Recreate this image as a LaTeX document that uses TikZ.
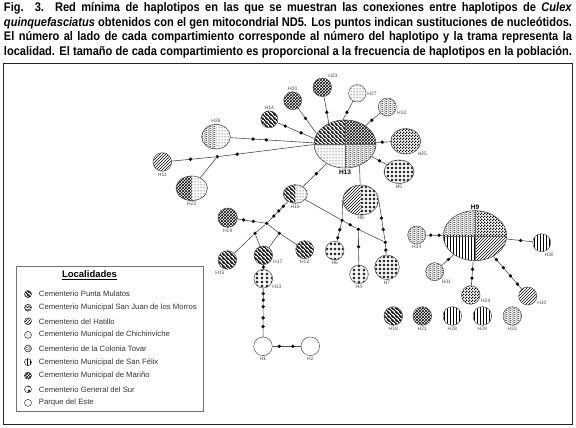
\documentclass[tikz,border=0pt]{standalone}
\usepackage{fontspec}
\setmainfont{Liberation Sans}
\newfontfamily\capfont[FakeStretch=0.885]{Liberation Sans}
\usepackage{tikz}
\usetikzlibrary{positioning,shapes.geometric,patterns,patterns.meta}

% tramas de las localidades
\tikzdeclarepattern{
  name=mulatos, type=uncolored,
  bottom left={(0pt,0pt)}, top right={(3.6pt,3.6pt)}, tile size={(3.6pt,3.6pt)},
  code={\draw[line width=1.1pt] (-1pt,4.6pt) -- (4.6pt,-1pt) (-1pt,1pt) -- (1pt,-1pt) (2.6pt,4.6pt) -- (4.6pt,2.6pt);}
}
\tikzdeclarepattern{
  name=sanjuan, type=uncolored,
  bottom left={(0pt,0pt)}, top right={(3pt,3pt)}, tile size={(3pt,3pt)},
  code={\fill (0pt,0pt) rectangle (1.5pt,1.5pt); \fill (1.5pt,1.5pt) rectangle (3pt,3pt);}
}
\tikzdeclarepattern{
  name=tovar, type=uncolored,
  bottom left={(0pt,0pt)}, top right={(4pt,2.2pt)}, tile size={(4pt,2.2pt)},
  code={\draw[line width=.35pt] (0pt,1.1pt) sin (1pt,1.8pt) cos (2pt,1.1pt) sin (3pt,.4pt) cos (4pt,1.1pt);}
}
\tikzdeclarepattern{
  name=delsur, type=uncolored,
  bottom left={(0pt,0pt)}, top right={(4.4pt,4.4pt)}, tile size={(4.4pt,4.4pt)},
  code={\draw[line width=.35pt] (0pt,2.2pt) -- (4.4pt,2.2pt) (2.2pt,0pt) -- (2.2pt,4.4pt);
        \fill (2.2pt,2.2pt) circle [radius=1.25pt];}
}

\tikzset{
  pmul/.style={pattern=mulatos},
  psjm/.style={pattern=sanjuan},
  phat/.style={pattern=north east lines},
  pchi/.style={pattern=dots},
  ptov/.style={pattern=tovar},
  pfel/.style={pattern=vertical lines},
  pmar/.style={pattern=crosshatch},
  pgds/.style={pattern=delsur},
  ppde/.style={}
}

\begin{document}
\begin{tikzpicture}[x=1pt,y=-1pt,
  hap/.style={circle,draw=black!70,line width=.5pt,inner sep=0pt,minimum size=18.6pt},
  hapbig/.style 2 args={ellipse,draw=black!70,line width=.6pt,inner sep=0pt,minimum width=#1,minimum height=#2},
  halves/.style 2 args={path picture={
    \fill[pattern=#1] (path picture bounding box.south west) rectangle (path picture bounding box.north);
    \fill[pattern=#2] (path picture bounding box.south) rectangle (path picture bounding box.north east);}},
  quarters/.style n args={4}{path picture={
    \fill[pattern=#1] (path picture bounding box.west) rectangle (path picture bounding box.north);
    \fill[pattern=#2] (path picture bounding box.center) rectangle (path picture bounding box.north east);
    \fill[pattern=#3] (path picture bounding box.south west) rectangle (path picture bounding box.center);
    \fill[pattern=#4] (path picture bounding box.south) rectangle (path picture bounding box.east);
    \draw[black!60,line width=.4pt] (path picture bounding box.north) -- (path picture bounding box.south)
      (path picture bounding box.west) -- (path picture bounding box.east);}},
  mut/.style={circle,fill=black,inner sep=0pt,minimum size=3.6pt},
  conn/.style={draw=black!70,line width=.6pt},
  hlab/.style={font=\fontsize{5}{5}\selectfont,text=black!70,inner sep=1pt},
  blab/.style={font=\bfseries\fontsize{6.5}{6.5}\selectfont,inner sep=1pt},
  capline/.style={font=\capfont\bfseries\fontsize{12.5}{14}\selectfont,inner sep=0pt},
  legicon/.style={circle,draw=black!80,line width=.5pt,inner sep=0pt,minimum size=7pt},
  legtext/.style={font=\fontsize{7.7}{8}\selectfont,text=black!80,inner sep=1pt}
]
\useasboundingbox (0,0) rectangle (576,428);

% leyenda de la figura
\node[capline] (cap1) at (288,8.5) {\makebox[568pt][s]{Fig. 3. Red mínima de haplotipos en las que se muestran las conexiones entre haplotipos de \textit{Culex}}};
\node[capline] (cap2) at (288,23) {\makebox[568pt][s]{\textit{quinquefasciatus} obtenidos con el gen mitocondrial ND5. Los puntos indican sustituciones de nucleótidos.}};
\node[capline] (cap3) at (288,37.5) {\makebox[568pt][s]{El número al lado de cada compartimiento corresponde al número del haplotipo y la trama representa la}};
\node[capline] (cap4) at (288,52) {\makebox[568pt][s]{localidad. El tamaño de cada compartimiento es proporcional a la frecuencia de haplotipos en la población.}};

\draw[line width=1.4pt,black!85] (3.5,63.5) rectangle (572.5,424.5);

% haplotipos
\node[hapbig={62pt}{48pt},quarters={mulatos}{crosshatch}{dots}{tovar},label={[blab]below:H13}] (H13) at (345,144) {};
\node[hap,pmul,minimum size=17pt,label={[hlab]above:H14}] (H14) at (269.3,119.3) {};
\node[hap,pmar,minimum size=18pt,label={[hlab]above:H20}] (H20) at (292.7,100.7) {};
\node[hap,pmar,label={[hlab]60:H23}] (H23) at (322.3,87.3) {};
\node[hap,pchi,minimum size=17.4pt,label={[hlab]0:H27}] (H27) at (357.3,93.3) {};
\node[hap,ptov,minimum size=18pt,label={[hlab]-20:H32}] (H32) at (387.3,107) {};
\node[hapbig={30pt}{25.4pt},psjm,label={[hlab]-40:H25}] (H25) at (405.7,141.3) {};
\node[hapbig={30pt}{23.4pt},pgds,label={[hlab]below:H5}] (H5) at (399,171.7) {};
\node[hapbig={28.6pt}{24.6pt},halves={tovar}{dots},label={[hlab]above:H26}] (H26) at (216,136.7) {};
\node[hap,phat,label={[hlab]below:H11}] (H11) at (162.3,162) {};
\node[hapbig={31.4pt}{24.6pt},halves={crosshatch}{dots},label={[hlab]below:H22}] (H22) at (191.7,188.3) {};
\node[hapbig={24pt}{18.6pt},halves={mulatos}{dots},label={[hlab]below:H16}] (H16) at (295.3,194) {};
\node[hapbig={35.4pt}{30pt},halves={north east lines}{delsur},label={[hlab]below:H8}] (H8) at (360.7,200) {};
\node[hap,pmar,minimum size=19.4pt,label={[hlab]below:H19}] (H19) at (227.7,217.7) {};
\node[hap,pmul,label={[hlab]-100:H15}] (H15) at (227.3,260) {};
\node[hap,pmul,label={[hlab]-25:H17}] (H17) at (263.3,255.3) {};
\node[hap,pmul,minimum size=18pt,label={[hlab]below:H12}] (H12) at (304.7,249.7) {};
\node[hap,pgds,label={[hlab]-35:H13}] (H13b) at (263.3,278.7) {};
\node[hap,pgds,label={[hlab]below:H6}] (H6) at (334.7,250.7) {};
\node[hap,pgds,label={[hlab]below:H4}] (H4) at (359,274.3) {};
\node[hap,pgds,minimum size=24.6pt,label={[hlab]below:H7}] (H7) at (387,267.3) {};
\node[hap,ppde,label={[hlab]below:H1}] (H1) at (263,346.3) {};
\node[hap,ppde,label={[hlab]below:H2}] (H2) at (310.3,346.3) {};

\node[hapbig={63.4pt}{50pt},quarters={tovar}{sanjuan}{vertical lines}{north east lines},label={[blab]above:H9}] (H9) at (475,235.7) {};
\node[hap,ptov,minimum size=18pt,label={[hlab]below:H34}] (H34) at (416.7,235) {};
\node[hap,pfel,minimum size=18pt,label={[hlab]-80:H30}] (H30) at (541.7,242.7) {};
\node[hap,ptov,minimum size=18pt,label={[hlab]-50:H31}] (H31) at (434.7,271.7) {};
\node[hap,psjm,label={[hlab]-15:H24}] (H24) at (470.7,295) {};
\node[hap,phat,minimum size=18pt,label={[hlab]-25:H10}] (H10) at (527.7,296) {};
\node[hap,pmul,label={[hlab]below:H18}] (H18) at (393.3,316) {};
\node[hap,pmar,label={[hlab]below:H21}] (H21) at (422.3,316) {};
\node[hap,pfel,label={[hlab]below:H28}] (H28) at (452.3,316) {};
\node[hap,pfel,label={[hlab]below:H29}] (H29) at (482.3,316) {};
\node[hap,ptov,label={[hlab]below:H33}] (H33) at (512.3,316) {};

% vectores medios
\node[mut] (v1) at (217.3,156.7) {};
\node[mut] (v2) at (266.7,223.3) {};
\node[mut] (v3) at (255,233.3) {};
\node[mut] (v4) at (279.3,233.3) {};
\node[mut] (v5) at (342,220.3) {};
\node[mut] (v6) at (358.3,229.3) {};
\node[mut] (v7) at (385.3,242.3) {};

% conexiones y sustituciones
\draw[conn] (H14) -- node[mut,pos=.21] (m1) {} node[mut,pos=.64] (m2) {} (H13.170);
\draw[conn] (H20) -- node[mut,pos=.4] (m3) {} (H13.160);
\draw[conn] (H23) -- node[mut,pos=.59] (m4) {} (H13.128);
\draw[conn] (H27) -- node[mut,pos=.6] (m5) {} (H13.95);
\draw[conn] (H32) -- node[mut,pos=.57] (m6) {} (H13.42);
\draw[conn] (H13.3) -- node[mut,pos=.43] (m7) {} (H25);
\draw[conn] (H13.-25) -- node[mut,pos=.52] (m8) {} (H5);
\draw[conn] (H26) -- node[mut,pos=.27] (m9) {} node[mut,pos=.43] (m10) {} (H13.178);
\draw[conn] (H11) -- node[mut,pos=.43] (m11) {} (v1);
\draw[conn] (v1) -- node[mut,pos=.19] (m12) {} (H13.181);
\draw[conn] (H22) -- (v1);
\draw[conn] (H16) -- node[mut,pos=.56] (m13) {} (H13.-133);
\draw[conn] (H13.-56) -- (H8);
\draw[conn] (H16) -- node[mut,pos=.23] (m14) {} node[mut,pos=.46] (m15) {} node[mut,pos=.71] (m16) {} (v2);
\draw[conn] (H19) -- node[mut,pos=.22] (m17) {} node[mut,pos=.58] (m18) {} (v2);
\draw[conn] (v2) -- (v3);
\draw[conn] (v3) -- (H15);
\draw[conn] (v3) -- (H17);
\draw[conn] (v2) -- (v4);
\draw[conn] (v4) -- (H12);
\draw[conn] (v4) -- (H17);
\draw[conn] (H17) -- node[mut,pos=.5] (m19) {} (H13b);
\draw[conn] (H13b) -- node[mut,pos=.11] (m20) {} node[mut,pos=.245] (m21) {} node[mut,pos=.38] (m22) {}
  node[mut,pos=.61] (m23) {} node[mut,pos=.79] (m24) {} (H1);
\draw[conn] (H1) -- node[mut,pos=.24] (m25) {} node[mut,pos=.72] (m26) {} (H2);
\draw[conn] (H16) -- (v5);
\draw[conn] (v5) -- node[mut,pos=.5] (m27) {} (v6);
\draw[conn] (v6) -- (v7);
\draw[conn] (v7) -- node[mut,pos=.55] (m28) {} (H7);
\draw[conn] (H8.west) -- (v5);
\draw[conn] (v5) -- node[mut,pos=.39] (m29) {} node[mut,pos=.81] (m30) {} (H6);
\draw[conn] (v6) -- node[mut,pos=.46] (m31) {} (H4);
\draw[conn] (H8.east) -- node[mut,pos=.45] (m32) {} node[mut,pos=.73] (m33) {} (v7);

\draw[conn] (H34) -- node[mut,pos=.28] (m34) {} node[mut,pos=.77] (m35) {} (H9);
\draw[conn] (H9) -- node[mut,pos=.54] (m36) {} (H30);
\draw[conn] (H9) -- node[mut,pos=.44] (m37) {} (H31);
\draw[conn] (H9) -- node[mut,pos=.34] (m38) {} node[mut,pos=.7] (m39) {} (H24);
\draw[conn] (H9.-48) -- node[mut,pos=.1] (m40) {} node[mut,pos=.35] (m41) {} node[mut,pos=.6] (m42) {}
  node[mut,pos=.85] (m43) {} (H10);

% localidades
\node[draw=black!55,line width=.6pt,minimum width=187pt,minimum height=145pt,anchor=north west,inner sep=0pt] (legend) at (15.7,266) {};
\node[font=\bfseries\fontsize{9.5}{10}\selectfont,inner sep=0pt] (legtitle) at (89.5,275.5) {\underline{Localidades}};
\foreach \p/\t [count=\i] in {pmul/Cementerio Punta Mulatos,
    psjm/Cementerio Municipal San Juan de los Morros,
    phat/Cementerio del Hatillo,
    pchi/Cementerio Municipal de Chichiriviche,
    ptov/Cementerio de la Colonia Tovar,
    pfel/Cementerio Municipal de San Félix,
    pmar/Cementerio Municipal de Mariño,
    pgds/Cementerio General del Sur,
    ppde/Parque del Este}
  {\node[legicon,\p] (li\i) at (28,{280.5+\i*13.6}) {};
   \node[legtext,right=6pt of li\i] (lt\i) {\t};}
\end{tikzpicture}
\end{document}
